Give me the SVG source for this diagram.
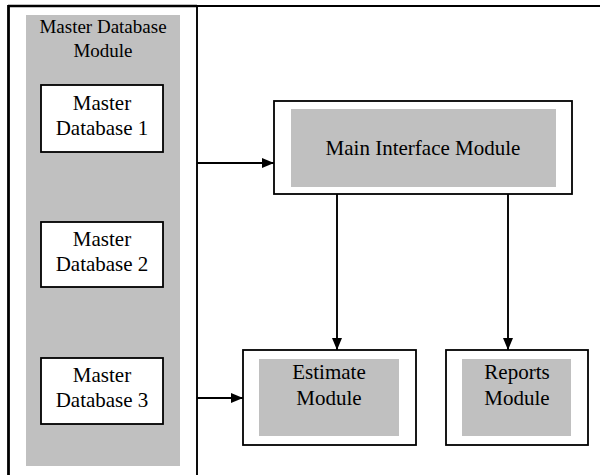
<svg xmlns="http://www.w3.org/2000/svg" width="600" height="475" viewBox="0 0 600 475">
<style>
.frame{fill:none;stroke:#000;stroke-width:1.8}
.box{fill:#fff;stroke:#000;stroke-width:1.8}
.gray{fill:#c0c0c0;stroke:none}
.t{font-family:"Liberation Serif","Times New Roman",serif;font-size:21px;fill:#000;text-anchor:middle}
.th{font-family:"Liberation Serif","Times New Roman",serif;font-size:19px;fill:#000;text-anchor:middle}
.line{fill:none;stroke:#000;stroke-width:1.9}
</style>
<defs>
<marker id="arr" markerWidth="12" markerHeight="11" refX="12" refY="5.5" orient="auto" markerUnits="userSpaceOnUse">
<path d="M0,0.5 L12,5.5 L0,10.5 Z" fill="#000"/>
</marker>
</defs>
<rect width="600" height="475" fill="#fff"/>
<g id="frame">
<line x1="8" y1="6" x2="600" y2="6" class="frame"/>
<line x1="8" y1="6" x2="197" y2="6" stroke="#000" stroke-width="2.6"/>
<line x1="8.5" y1="5" x2="8.5" y2="475" stroke="#000" stroke-width="2.8"/>
</g>
<g id="master-db-module">
<line x1="197" y1="6" x2="197" y2="475" class="line"/>
<rect x="26" y="15" width="154" height="451" class="gray"/>
<text class="th" x="103" y="33">Master Database</text>
<text class="th" x="103" y="57">Module</text>
</g>
<g id="master-db-1">
<rect x="41" y="85" width="122" height="67" class="box"/>
<text class="t" x="102" y="110">Master</text>
<text class="t" x="102" y="135">Database 1</text>
</g>
<g id="master-db-2">
<rect x="41" y="222" width="122" height="65" class="box"/>
<text class="t" x="102" y="246">Master</text>
<text class="t" x="102" y="271">Database 2</text>
</g>
<g id="master-db-3">
<rect x="41" y="358" width="122" height="66" class="box"/>
<text class="t" x="102" y="382">Master</text>
<text class="t" x="102" y="407">Database 3</text>
</g>
<g id="main-interface">
<rect x="274" y="101" width="298" height="93" class="box"/>
<rect x="291" y="109" width="265" height="78" class="gray"/>
<text class="t" x="423" y="155">Main Interface Module</text>
</g>
<g id="estimate">
<rect x="243" y="350" width="173" height="95" class="box"/>
<rect x="259" y="359" width="140" height="77" class="gray"/>
<text class="t" x="329" y="379">Estimate</text>
<text class="t" x="329" y="405">Module</text>
</g>
<g id="reports">
<rect x="446" y="350" width="142" height="95" class="box"/>
<rect x="462" y="359" width="109" height="77" class="gray"/>
<text class="t" x="517" y="379">Reports</text>
<text class="t" x="517" y="405">Module</text>
</g>
<g id="connectors">
<line x1="197" y1="163" x2="274" y2="163" class="line" marker-end="url(#arr)"/>
<line x1="197" y1="398" x2="243" y2="398" class="line" marker-end="url(#arr)"/>
<line x1="337" y1="194" x2="337" y2="350" class="line" marker-end="url(#arr)"/>
<line x1="508" y1="194" x2="508" y2="350" class="line" marker-end="url(#arr)"/>
</g>
</svg>
